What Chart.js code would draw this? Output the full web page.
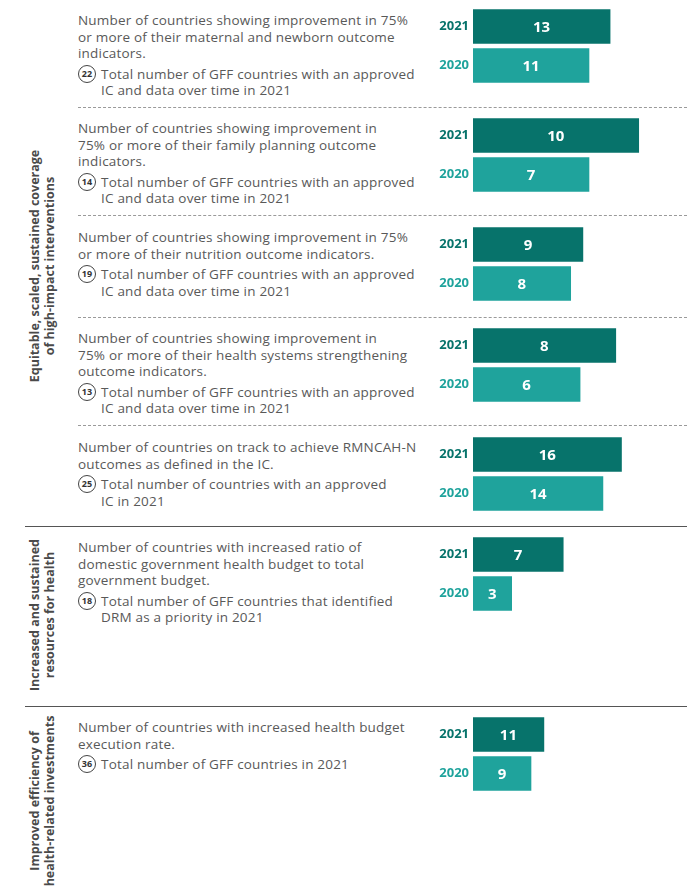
<!DOCTYPE html>
<html lang="en">
<head>
  <meta charset="UTF-8" />
  <title>GFF indicators 2020–2021</title>
  <script src="https://cdn.jsdelivr.net/npm/chart.js"></script>
  <style>
    body {
      margin: 0;
      background: #fff;
      font-family: "Open Sans", sans-serif;
    }
    #page {
      position: relative;
      width: 687px;
      height: 893px;
      overflow: hidden;
    }
    .desc {
      position: absolute;
      left: 78px;
      color: #595959;
      font-size: 13.5px;
      letter-spacing: 0.2px;
      line-height: 16.5px;
      white-space: nowrap;
    }
    .total {
      position: relative;
      padding-left: 23px;
      margin-top: 4px;
    }
    .badge {
      position: absolute;
      left: 0;
      top: -1px;
      width: 16px;
      height: 16px;
      border: 1.5px solid #444;
      border-radius: 50%;
      font-size: 9px;
      font-weight: 700;
      letter-spacing: 0;
      line-height: 16px;
      text-align: center;
      color: #333;
    }
    .dash {
      position: absolute;
      left: 78px;
      right: 0;
      border-top: 1px dashed #9a9a9a;
    }
    .solid {
      position: absolute;
      left: 25px;
      right: 0;
      border-top: 1.4px solid #555;
    }
    .side {
      position: absolute;
      width: 300px;
      text-align: center;
      color: #4a4a4a;
      font-size: 12.5px;
      font-weight: 700;
      line-height: 15px;
      transform: translate(-50%, -50%) rotate(-90deg);
      white-space: nowrap;
    }
    .bars {
      position: absolute;
      left: 430px;
      line-height: 0;
    }
  </style>
</head>
<body>
  <div id="page"></div>

  <script>
    const years = ["2021", "2020"];
    const values2021 = [13, 10, 9, 8, 16, 7, 11];
    const values2020 = [11, 7, 8, 6, 14, 3, 9];
    const totals = [22, 14, 19, 13, 25, 18, 36];

    const indicatorText = [
      ["Number of countries showing improvement in 75%", "or more of their maternal and newborn outcome", "indicators."],
      ["Number of countries showing improvement in", "75% or more of their family planning outcome", "indicators."],
      ["Number of countries showing improvement in 75%", "or more of their nutrition outcome indicators."],
      ["Number of countries showing improvement in", "75% or more of their health systems strengthening", "outcome indicators."],
      ["Number of countries on track to achieve RMNCAH-N", "outcomes as defined in the IC."],
      ["Number of countries with increased ratio of", "domestic government health budget to total", "government budget."],
      ["Number of countries with increased health budget", "execution rate."]
    ];
    const totalText = [
      ["Total number of GFF countries with an approved", "IC and data over time in 2021"],
      ["Total number of GFF countries with an approved", "IC and data over time in 2021"],
      ["Total number of GFF countries with an approved", "IC and data over time in 2021"],
      ["Total number of GFF countries with an approved", "IC and data over time in 2021"],
      ["Total number of countries with an approved", "IC in 2021"],
      ["Total number of GFF countries that identified", "DRM as a priority in 2021"],
      ["Total number of GFF countries in 2021"]
    ];
    const sections = [
      ["Equitable, scaled, sustained coverage", "of high-impact interventions"],
      ["Increased and sustained", "resources for health"],
      ["Improved efficiency of", "health-related investments"]
    ];

    const colors = ["#07736b", "#1fa39c"];

    // layout
    const textTops = [12, 120, 229, 330, 439, 539, 719];
    const barCenters = [26, 135, 244, 345, 454, 554, 734];
    const dashAt = [107, 215, 317, 425];
    const solidAt = [526, 706];
    const sideCenters = [[42, 266], [42, 615], [42, 801]];

    const page = document.getElementById("page");

    dashAt.forEach(y => {
      const d = document.createElement("div");
      d.className = "dash";
      d.style.top = y + "px";
      page.appendChild(d);
    });
    solidAt.forEach(y => {
      const d = document.createElement("div");
      d.className = "solid";
      d.style.top = y + "px";
      page.appendChild(d);
    });

    sections.forEach((lines, i) => {
      const s = document.createElement("div");
      s.className = "side";
      s.style.left = sideCenters[i][0] + "px";
      s.style.top = sideCenters[i][1] + "px";
      s.innerHTML = lines.join("<br>");
      page.appendChild(s);
    });

    const valueLabels = {
      id: "valueLabels",
      afterDatasetsDraw(chart) {
        const ctx = chart.ctx;
        const nums = chart.options.plugins.valueLabels.nums;
        ctx.save();
        ctx.fillStyle = "#fff";
        ctx.font = "700 15px 'Open Sans'";
        ctx.textAlign = "center";
        ctx.textBaseline = "middle";
        chart.getDatasetMeta(0).data.forEach((bar, i) => {
          ctx.fillText(String(nums[i]), (bar.x + bar.base) / 2, bar.y + 1);
        });
        ctx.restore();
      }
    };

    totals.forEach((total, i) => {
      const desc = document.createElement("div");
      desc.className = "desc";
      desc.style.top = textTops[i] + "px";
      const main = document.createElement("div");
      main.innerHTML = indicatorText[i].join("<br>");
      const tot = document.createElement("div");
      tot.className = "total";
      tot.innerHTML = `<span class="badge">${total}</span>` + totalText[i].join("<br>");
      desc.appendChild(main);
      desc.appendChild(tot);
      page.appendChild(desc);

      const wrap = document.createElement("div");
      wrap.className = "bars";
      wrap.style.top = (barCenters[i] - 19.5) + "px";
      const canvas = document.createElement("canvas");
      canvas.width = 257;
      canvas.height = 78;
      wrap.appendChild(canvas);
      page.appendChild(wrap);

      const nums = [values2021[i], values2020[i]];
      new Chart(canvas.getContext("2d"), {
        type: "bar",
        data: {
          labels: years,
          datasets: [{
            data: nums.map(v => v / total),
            backgroundColor: colors,
            barThickness: 34
          }]
        },
        options: {
          indexAxis: "y",
          responsive: false,
          animation: false,
          layout: { padding: 0 },
          scales: {
            x: { display: false, min: 0, max: 214 / 232 },
            y: {
              grid: { display: false, drawTicks: false },
              border: { display: false },
              afterFit: scale => {
                scale.width = 43;
                scale.paddingTop = 0;
                scale.paddingBottom = 0;
              },
              ticks: {
                padding: 4,
                color: c => colors[c.index],
                font: { family: "'Open Sans'", weight: "700", size: 13 }
              }
            }
          },
          plugins: {
            legend: { display: false },
            tooltip: { enabled: false },
            valueLabels: { nums }
          }
        },
        plugins: [valueLabels]
      });
    });
  </script>
</body>
</html>
